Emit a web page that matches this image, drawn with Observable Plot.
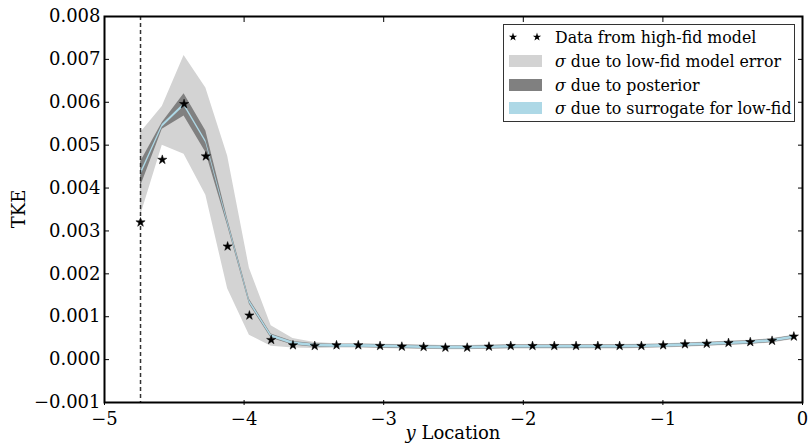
<!DOCTYPE html>
<html><head><meta charset="utf-8">
<script src="https://cdn.jsdelivr.net/npm/d3@7"></script>
<script src="https://cdn.jsdelivr.net/npm/@observablehq/plot@0.6"></script>
<style>
html,body{margin:0;padding:0;background:#fff;}
#chart{position:relative;width:809px;height:443px;}
</style></head><body><div id="chart"></div>
<script>
// y locations of the samples
const yLocation = [-4.742, -4.586, -4.430, -4.274, -4.118, -3.962, -3.806, -3.650, -3.494, -3.338,
  -3.182, -3.026, -2.870, -2.714, -2.558, -2.402, -2.246, -2.090, -1.934, -1.778,
  -1.622, -1.466, -1.310, -1.154, -0.998, -0.842, -0.686, -0.530, -0.374, -0.218, -0.062];
// high-fidelity data (stars)
const hiFidTKE = [0.00320, 0.00466, 0.00596, 0.00474, 0.00264, 0.00103, 0.00046, 0.000336, 0.000319, 0.000336,
  0.000336, 0.000319, 0.000303, 0.000296, 0.00028, 0.00028, 0.000303, 0.000319, 0.000319, 0.000319,
  0.000319, 0.000319, 0.000319, 0.000319, 0.000336, 0.000359, 0.00037, 0.00039, 0.00041, 0.00044, 0.00054];
// mean prediction
const meanTKE = [0.00432, 0.00545, 0.00594, 0.00508, 0.00320, 0.00135, 0.00055, 0.00038, 0.00033, 0.00032,
  0.00032, 0.00031, 0.00030, 0.00029, 0.00028, 0.00028, 0.00029, 0.00030, 0.00030, 0.00030,
  0.00030, 0.00030, 0.00030, 0.00031, 0.00032, 0.00034, 0.00036, 0.00038, 0.00040, 0.00044, 0.00052];
// sigma of each source
const sigmaLowFid = [0.00097, 0.00045, 0.00115, 0.00125, 0.00155, 0.00078, 0.00024, 0.00011, 0.00007, 0.00005,
  0.00005, 0.00005, 0.00005, 0.00005, 0.00005, 0.00005, 0.00005, 0.00005, 0.00005, 0.00005,
  0.00005, 0.00005, 0.00005, 0.00005, 0.00005, 0.00005, 0.00005, 0.00005, 0.00005, 0.00005, 0.00005];
const sigmaPosterior = [0.00029, 0.00008, 0.00026, 0.00025, 0.00008, 0.00006, 0.00005, 0.00004, 0.00004, 0.00004,
  0.00004, 0.00004, 0.00004, 0.00004, 0.00004, 0.00004, 0.00004, 0.00004, 0.00004, 0.00004,
  0.00004, 0.00004, 0.00004, 0.00004, 0.00004, 0.00004, 0.00004, 0.00004, 0.00004, 0.00004, 0.00004];
const sigmaSurrogate = [0.00004, 0.00003, 0.00003, 0.00003, 0.00003, 0.00003, 0.00003, 0.00003, 0.00003, 0.00003,
  0.00003, 0.00003, 0.00003, 0.00003, 0.00003, 0.00003, 0.00003, 0.00003, 0.00003, 0.00003,
  0.00003, 0.00003, 0.00003, 0.00003, 0.00003, 0.00003, 0.00003, 0.00003, 0.00003, 0.00003, 0.00003];
const wallLocation = [-4.742];
const xTicks = [-5, -4, -3, -2, -1, 0];
const yTicks = [-0.001, 0.000, 0.001, 0.002, 0.003, 0.004, 0.005, 0.006, 0.007, 0.008];
const legendLabels = ["Data from high-fid model", "σ due to low-fid model error", "σ due to posterior", "σ due to surrogate for low-fid"];
const legendColors = [null, "#d3d3d3", "#808080", "#add8e6"];
const xLabel = ["y", " Location"];
const yLabel = "TKE";

const rows = yLocation.map((x, i) => ({
  x, hi: hiFidTKE[i], m: meanTKE[i], sl: sigmaLowFid[i], sp: sigmaPosterior[i], ss: sigmaSurrogate[i]
}));

const plot = Plot.plot({
  width: 809, height: 443,
  marginLeft: 104, marginRight: 7, marginTop: 16, marginBottom: 41,
  x: {domain: [-5, 0]},
  y: {domain: [-0.001, 0.008]},
  style: {fontFamily: "'DejaVu Serif', serif", fontSize: "18px", background: "white", color: "black"},
  marks: [
    Plot.areaY(rows, {x: "x", y1: d => d.m - d.sl, y2: d => d.m + d.sl, fill: legendColors[1]}),
    Plot.areaY(rows, {x: "x", y1: d => d.m - d.sp, y2: d => d.m + d.sp, fill: legendColors[2]}),
    Plot.areaY(rows, {x: "x", y1: d => d.m - d.ss, y2: d => d.m + d.ss, fill: legendColors[3]}),
    Plot.ruleX(wallLocation, {stroke: "#333", strokeDasharray: "4,3", strokeWidth: 1.5}),
    Plot.dot(rows, {x: "x", y: "hi", symbol: "star", r: 2.9, fill: "black", stroke: "black", strokeWidth: 0.5}),
    Plot.axisX(xTicks, {anchor: "bottom", tickSize: -5, tickPadding: 12, dy: 3, tickFormat: d3.format("d"), label: null}),
    Plot.axisX(xTicks, {anchor: "top", tickSize: -5, tickFormat: () => "", label: null}),
    Plot.axisY(yTicks, {anchor: "left", tickSize: -5, tickPadding: 9, tickFormat: d3.format(".3f"), label: null}),
    Plot.axisY(yTicks, {anchor: "right", tickSize: -5, tickFormat: () => "", label: null}),
    Plot.frame({stroke: "black", strokeWidth: 2})
  ]
});
document.getElementById("chart").appendChild(plot);

const svg = d3.select(plot);
const font = "'DejaVu Serif', serif";
// axis labels
const xl = svg.append("text").attr("x", 453).attr("y", 439).attr("text-anchor", "middle")
  .attr("font-family", font).attr("font-size", 18).attr("fill", "black");
xl.append("tspan").attr("font-style", "italic").text(xLabel[0]);
xl.append("tspan").text(xLabel[1]);
svg.append("text").attr("transform", "translate(25,209) rotate(-90)").attr("text-anchor", "middle")
  .attr("font-family", font).attr("font-size", 18).attr("fill", "black").text(yLabel);

// legend
const lg = svg.append("g").attr("text-anchor", "start");
lg.append("rect").attr("x", 503.5).attr("y", 24.5).attr("width", 291).attr("height", 97)
  .attr("fill", "white").attr("stroke", "#333").attr("stroke-width", 1);
const rowY = [37, 61, 85, 108];
legendLabels.forEach((lab, i) => {
  const cy = rowY[i];
  if (i === 0) {
    [513, 537].forEach(sx => lg.append("path").attr("d", d3.symbol(d3.symbolStar, 22)())
      .attr("transform", `translate(${sx},${cy})`).attr("fill", "black"));
  } else {
    lg.append("rect").attr("x", 509).attr("y", cy - 6).attr("width", 33).attr("height", 12).attr("fill", legendColors[i]);
  }
  const t = lg.append("text").attr("x", 555).attr("y", cy).attr("dy", "0.35em").attr("text-anchor", "start")
    .attr("font-family", font).attr("font-size", 15.8).attr("fill", "black");
  if (lab.startsWith("σ")) {
    t.append("tspan").attr("font-style", "italic").text("σ");
    t.append("tspan").text(lab.slice(1));
  } else t.text(lab);
});
</script></body></html>
